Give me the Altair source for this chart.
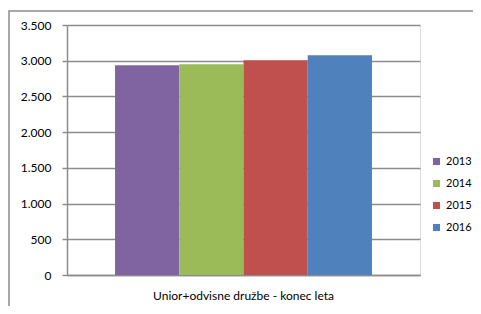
import altair as alt
import pandas as pd

category = "Unior+odvisne družbe - konec leta"
years = ["2013", "2014", "2015", "2016"]
values = [2935, 2950, 3005, 3075]
colors = ["#8064A2", "#9BBB59", "#C0504D", "#4F81BD"]
y_ticks = [0, 500, 1000, 1500, 2000, 2500, 3000, 3500]

df = pd.DataFrame({"cat": [category] * len(years), "year": years, "value": values})

W, H = 353, 250
FONT = "Lato"
FS = 12
GRID = "#8c8c8c"

bars = alt.Chart(df).mark_bar().encode(
    x=alt.X("cat:N", title=None,
            scale=alt.Scale(paddingInner=0, paddingOuter=0.187),
            axis=alt.Axis(labelAngle=0, ticks=False, domainColor=GRID, domainWidth=1.5,
                          labelFont=FONT, labelFontSize=FS, labelColor="#000",
                          labelPadding=15, labelLimit=400)),
    xOffset=alt.XOffset("year:N", scale=alt.Scale(paddingInner=0, paddingOuter=0)),
    y=alt.Y("value:Q", title=None,
            scale=alt.Scale(domain=[0, 3500], nice=False),
            axis=alt.Axis(values=y_ticks, grid=True, gridColor=GRID, gridWidth=1.5,
                          tickColor=GRID, tickWidth=1.5, tickSize=5,
                          domainColor=GRID, domainWidth=1.5,
                          labelFont=FONT, labelFontSize=FS, labelColor="#000",
                          labelPadding=11,
                          labelExpr="replace(format(datum.value, ','), ',', '.')")),
    color=alt.Color("year:N", scale=alt.Scale(domain=years, range=colors),
                    legend=alt.Legend(title=None, orient="none", legendX=364, legendY=131,
                                      symbolType="square", symbolSize=50, symbolStrokeWidth=0,
                                      labelFont=FONT, labelFontSize=11, labelColor="#000",
                                      labelOffset=4, rowPadding=10, symbolOffset=0)),
)

border = alt.Chart(pd.DataFrame({"a": [0]})).mark_rect(
    fill=None, stroke=GRID, strokeWidth=1.5, clip=False
).encode(x=alt.value(-58), x2=alt.value(520), y=alt.value(-14), y2=alt.value(330))

chart = alt.layer(bars, border).properties(
    width=W, height=H,
    padding={"left": 59, "top": 17, "right": 53, "bottom": 31},
    autosize=alt.AutoSizeParams(type="none"),
).configure_view(stroke=None).configure(background="white")

chart.save("out.html", embed_options={"renderer": "svg", "actions": False})
